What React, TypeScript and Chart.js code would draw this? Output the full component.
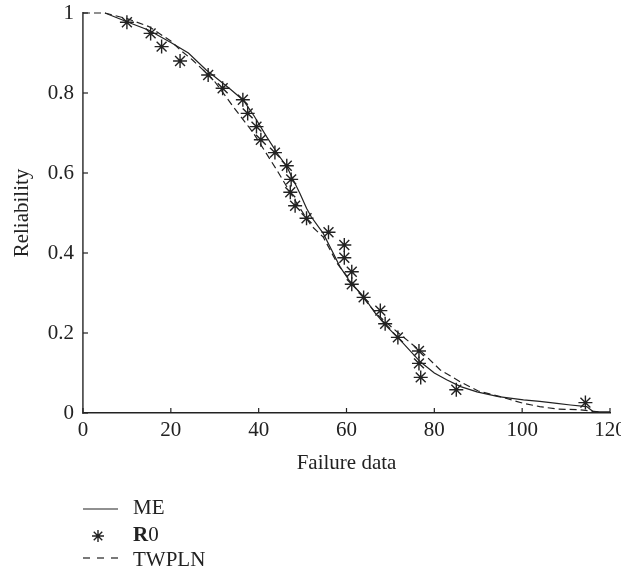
import React, { useEffect, useRef } from "react";
import { Chart, registerables } from "chart.js";

Chart.register(...registerables);

const xTicks = [0, 20, 40, 60, 80, 100, 120];
const yTicks = [0, 0.2, 0.4, 0.6, 0.8, 1];

const r0X = [10.0, 15.4, 17.9, 22.1, 28.5, 31.8, 36.4, 37.5, 39.5, 40.5, 43.7, 46.4, 47.4, 47.2, 48.3, 50.9, 55.9, 59.5, 59.5, 61.2, 61.2, 63.9, 67.7, 68.8, 71.7, 76.5, 76.5, 76.9, 85.0, 114.4];
const r0Y = [0.977, 0.949, 0.916, 0.88, 0.845, 0.812, 0.783, 0.749, 0.716, 0.683, 0.651, 0.618, 0.584, 0.552, 0.518, 0.487, 0.452, 0.42, 0.388, 0.353, 0.322, 0.289, 0.256, 0.223, 0.189, 0.155, 0.124, 0.089, 0.058, 0.026];

const meX = [5, 10, 15, 20, 24, 28, 31, 33.5, 36.5, 39, 41.8, 44.5, 46.4, 48, 49.4, 50.9, 52, 54.7, 56.5, 58.5, 61, 63.9, 66.5, 69.2, 72.2, 76.8, 80, 82.8, 86, 89.7, 94.6, 100.3, 104, 107.9, 111, 114.7, 116.2, 120];
const meY = [1.0, 0.978, 0.957, 0.926, 0.9, 0.858, 0.832, 0.81, 0.782, 0.742, 0.691, 0.645, 0.616, 0.58, 0.549, 0.512, 0.49, 0.449, 0.41, 0.366, 0.325, 0.291, 0.25, 0.216, 0.183, 0.128, 0.1, 0.083, 0.066, 0.053, 0.041, 0.033, 0.029, 0.024, 0.02, 0.016, 0.003, 0.003];

const twX = [0, 5, 10, 15, 20, 22.1, 25, 29.7, 34.2, 38.8, 44.1, 48.7, 52, 54.7, 58, 62, 65, 67, 71.5, 77.5, 81.3, 85.9, 90, 95, 100.3, 104, 107.9, 113, 118];
const twY = [1.0, 1.0, 0.986, 0.966, 0.93, 0.908, 0.882, 0.833, 0.766, 0.7, 0.608, 0.524, 0.468, 0.44, 0.372, 0.315, 0.272, 0.246, 0.203, 0.149, 0.108, 0.078, 0.055, 0.041, 0.024, 0.016, 0.01, 0.008, 0.002];

const INK = "#222";
const FONT = "'Liberation Serif', 'DejaVu Serif', serif";
const FS = 21;

const toPts = (xs: number[], ys: number[]) => xs.map((x, i) => ({ x, y: ys[i] }));

const inwardTicks = {
  id: "inwardTicks",
  afterDraw(chart: any) {
    const { ctx, chartArea, scales } = chart;
    ctx.save();
    ctx.strokeStyle = INK;
    ctx.lineWidth = 1.2;
    xTicks.forEach((v) => {
      const px = scales.x.getPixelForValue(v);
      ctx.beginPath();
      ctx.moveTo(px, chartArea.bottom);
      ctx.lineTo(px, chartArea.bottom - 5);
      ctx.stroke();
    });
    yTicks.forEach((v) => {
      const py = scales.y.getPixelForValue(v);
      ctx.beginPath();
      ctx.moveTo(chartArea.left, py);
      ctx.lineTo(chartArea.left + 5, py);
      ctx.stroke();
    });
    ctx.restore();
  },
};

const customLegend = {
  id: "customLegend",
  afterDraw(chart: any) {
    const { ctx, chartArea } = chart;
    const x0 = chartArea.left;
    const b = chartArea.bottom;
    const tx = x0 + 50;
    ctx.save();
    ctx.strokeStyle = INK;
    ctx.fillStyle = INK;
    ctx.lineWidth = 1.2;
    // ME
    ctx.beginPath();
    ctx.moveTo(x0, b + 96);
    ctx.lineTo(x0 + 35, b + 96);
    ctx.stroke();
    // R0 star
    const sx = x0 + 15;
    const sy = b + 123;
    const r = 6;
    ctx.beginPath();
    for (let k = 0; k < 4; k++) {
      const a = (k * Math.PI) / 4;
      ctx.moveTo(sx - Math.cos(a) * r, sy - Math.sin(a) * r);
      ctx.lineTo(sx + Math.cos(a) * r, sy + Math.sin(a) * r);
    }
    ctx.lineWidth = 1.4;
    ctx.stroke();
    ctx.lineWidth = 1.2;
    // TWPLN
    ctx.setLineDash([7, 7]);
    ctx.beginPath();
    ctx.moveTo(x0, b + 145);
    ctx.lineTo(x0 + 35, b + 145);
    ctx.stroke();
    ctx.setLineDash([]);
    ctx.textBaseline = "alphabetic";
    ctx.textAlign = "left";
    ctx.font = `${FS}px ${FONT}`;
    ctx.fillText("ME", tx, b + 101);
    ctx.font = `bold ${FS}px ${FONT}`;
    ctx.fillText("R", tx, b + 128);
    const w = ctx.measureText("R").width;
    ctx.font = `${FS}px ${FONT}`;
    ctx.fillText("0", tx + w, b + 128);
    ctx.fillText("TWPLN", tx, b + 153);
    ctx.restore();
  },
};

export default function App() {
  const ref = useRef<HTMLCanvasElement | null>(null);
  useEffect(() => {
    if (!ref.current) return;
    const chart = new Chart(ref.current, {
      type: "scatter",
      data: {
        datasets: [
          {
            label: "ME",
            type: "line",
            data: toPts(meX, meY),
            borderColor: INK,
            borderWidth: 1.2,
            pointRadius: 0,
            tension: 0,
            fill: false,
            clip: 6,
          } as any,
          {
            label: "R0",
            data: toPts(r0X, r0Y),
            pointStyle: "star",
            pointRadius: 7,
            pointBorderWidth: 1.4,
            borderColor: INK,
            backgroundColor: INK,
            clip: 10,
          } as any,
          {
            label: "TWPLN",
            type: "line",
            data: toPts(twX, twY),
            borderColor: INK,
            borderWidth: 1.2,
            borderDash: [7, 4],
            pointRadius: 0,
            tension: 0,
            fill: false,
            clip: 6,
          } as any,
        ],
      },
      options: {
        animation: false,
        responsive: false,
        maintainAspectRatio: false,
        layout: { padding: { left: 0, top: 13, right: 11, bottom: 97 } },
        plugins: { legend: { display: false }, tooltip: { enabled: false } },
        scales: {
          x: {
            type: "linear",
            min: 0,
            max: 120,
            grid: { display: false, drawTicks: false },
            border: { display: true, color: INK, width: 1.5 },
            ticks: {
              stepSize: 20,
              padding: 5,
              color: INK,
              font: { family: FONT, size: FS },
              maxRotation: 0,
              autoSkip: false,
            },
            title: {
              display: true,
              text: "Failure data",
              color: INK,
              font: { family: FONT, size: FS },
              padding: 0,
            },
            afterFit: (s: any) => {
              s.height = 63;
              s.paddingLeft = 0;
              s.paddingRight = 0;
            },
          },
          y: {
            type: "linear",
            min: 0,
            max: 1,
            grid: { display: false, drawTicks: false },
            border: { display: true, color: "#555", width: 1.8 },
            ticks: {
              stepSize: 0.2,
              padding: 9,
              color: INK,
              font: { family: FONT, size: FS },
              callback: (v: any) => String(Number(Number(v).toFixed(1))),
            },
            title: {
              display: true,
              text: "Reliability",
              color: INK,
              font: { family: FONT, size: FS },
              padding: { top: 10, bottom: 0 },
            },
            afterFit: (s: any) => {
              s.width = 83;
              s.paddingTop = 0;
              s.paddingBottom = 0;
            },
          },
        },
      },
      plugins: [inwardTicks, customLegend],
    });
    return () => chart.destroy();
  }, []);
  return (
    <div style={{ position: "fixed", left: 0, top: 0, width: 621, height: 573, background: "#fff" }}>
      <canvas ref={ref} width={621} height={573} style={{ width: 621, height: 573, display: "block" }} />
    </div>
  );
}
